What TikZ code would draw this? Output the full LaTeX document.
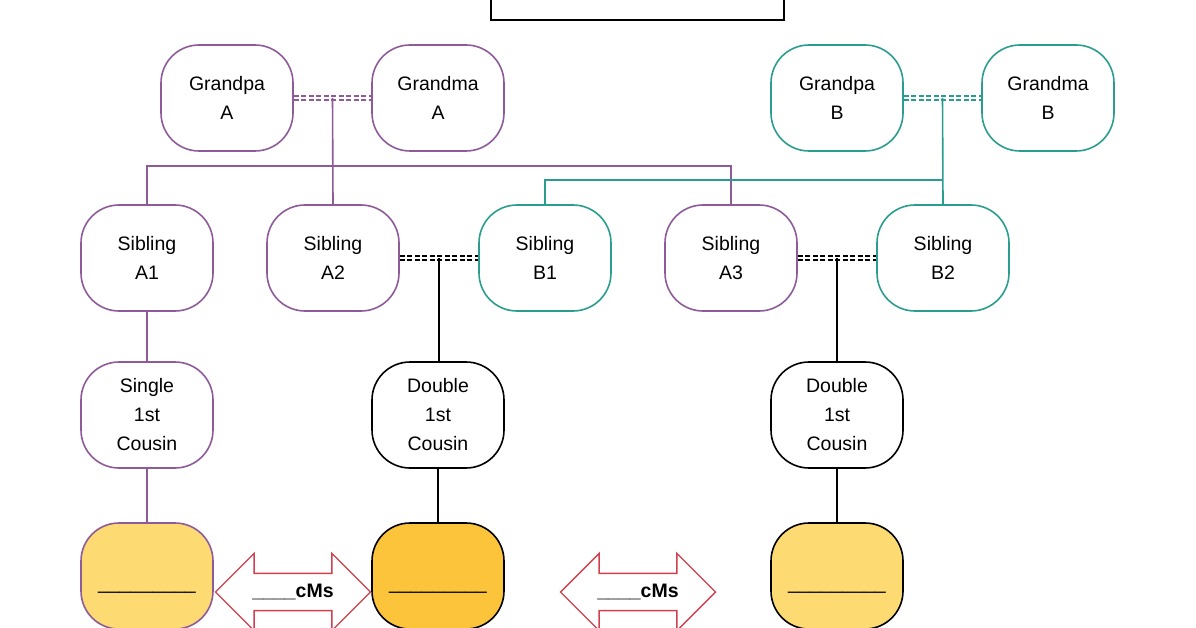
\documentclass[tikz,border=0pt]{standalone}
\usepackage{fontspec}
\setmainfont{Liberation Sans}
\usetikzlibrary{shapes.arrows}
\definecolor{purp}{HTML}{8E5A9A}
\definecolor{teal}{HTML}{2A9D8F}
\definecolor{lightgold}{HTML}{FDDB72}
\definecolor{darkgold}{HTML}{FBC43A}
\definecolor{redline}{HTML}{D0404E}

\begin{document}
\begin{tikzpicture}[x=1pt, y=-1pt, line width=1.6pt,
    person/.style ={rectangle, draw, rounded corners=38pt, minimum width=132pt,
      minimum height=106pt, align=center, font=\fontsize{19.5}{29}\selectfont, inner sep=0pt},
    couple/.style ={double, line width=1.8pt, double distance=2.2pt, dashed, dash pattern=on 5pt off 2.5pt},
    cmarrow/.style ={double arrow, draw=redline, line width=1.4pt, fill=white, minimum height=155pt,
      double arrow head extend=20pt, inner ysep=10pt, inner xsep=2pt,
      font=\bfseries\fontsize{19.5}{20}\selectfont}]
   \useasboundingbox (0,0) rectangle (1196,628);
   \draw (491,-5) rectangle (784,20);
   % grandparents
   \node[person, draw=purp] (GpA) at (227,98) {Grandpa\\A};
   \node[person, draw=purp] (GmA) at (438,98) {Grandma\\A};
   \node[person, draw=teal] (GpB) at (837,98) {Grandpa\\B};
   \node[person, draw=teal] (GmB) at (1048,98) {Grandma\\B};
   % siblings
   \node[person, draw=purp] (SA1) at (147,258) {Sibling\\A1};
   \node[person, draw=purp] (SA2) at (333,258) {Sibling\\A2};
   \node[person, draw=teal] (SB1) at (545,258) {Sibling\\B1};
   \node[person, draw=purp] (SA3) at (731,258) {Sibling\\A3};
   \node[person, draw=teal] (SB2) at (943,258) {Sibling\\B2};
   % cousins
   \node[person, draw=purp] (C1) at (147,415) {Single\\1st\\Cousin};
   \node[person, draw=black] (C2) at (438,415) {Double\\1st\\Cousin};
   \node[person, draw=black] (C3) at (837,415) {Double\\1st\\Cousin};
   % dna boxes
   \node[person, draw=purp, fill=lightgold] (D1) at (147,576) {\raisebox{-30pt}{\_\_\_\_\_\_\_\_\_}};
   \node[person, draw=black, fill=darkgold] (D2) at (438,576) {\raisebox{-30pt}{\_\_\_\_\_\_\_\_\_}};
   \node[person, draw=black, fill=lightgold] (D3) at (837,576) {\raisebox{-30pt}{\_\_\_\_\_\_\_\_\_}};
   \node[cmarrow] (cmL) at (293,592) {\_\_\_\_cMs};
   \node[cmarrow] (cmR) at (638,592) {\_\_\_\_cMs};

   \draw[couple, purp] (GpA.east) -- (GmA.west) coordinate[midway] (mA);
   \draw[couple, teal] (GpB.east) -- (GmB.west) coordinate[midway] (mB);
   \draw[couple] (SA2.east) -- (SB1.west) coordinate[midway] (m2);
   \draw[couple] (SA3.east) -- (SB2.west) coordinate[midway] (m3);

   \draw[purp] (mA) -- (SA2.north);
   \draw[purp] (SA1.north) |- (333,166) -| (SA3.north);
   \draw[teal] (mB) -- (SB2.north);
   \draw[teal] (SB1.north) |- (943,180);
   \draw (m2) -- (m2 |- C2.north);
   \draw (m3) -- (m3 |- C3.north);
   \draw[purp] (SA1) -- (C1);
   \draw[purp] (C1) -- (D1);
   \draw (C2) -- (D2);
   \draw (C3) -- (D3);
 \end{tikzpicture}
\end{document}
